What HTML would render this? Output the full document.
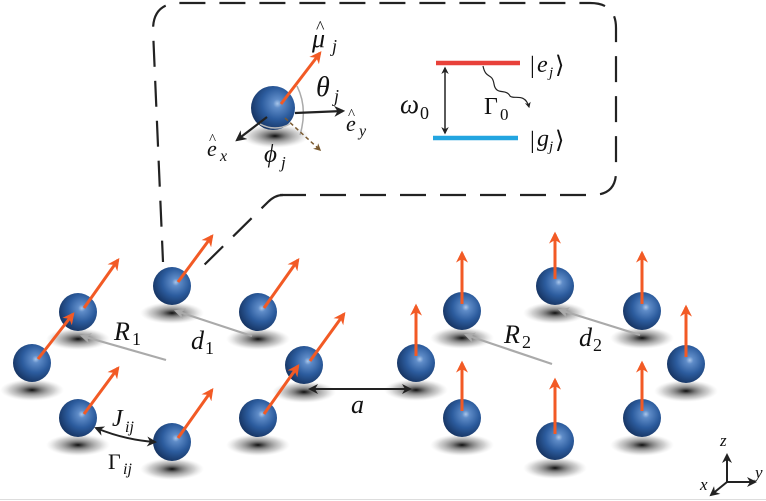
<!DOCTYPE html>
<html><head><meta charset="utf-8"><style>
html,body{margin:0;padding:0;background:#fff}
svg{display:block}
text{font-family:"Liberation Serif","DejaVu Serif",serif;font-style:italic;fill:#111}
.n{font-style:normal}
</style></head><body>
<svg width="766" height="501" viewBox="0 0 766 501" xmlns="http://www.w3.org/2000/svg">
<defs>
<radialGradient id="sp" cx="0.6" cy="0.4" r="0.65">
<stop offset="0" stop-color="#a9c6ea"/>
<stop offset="0.15" stop-color="#5f8cc8"/>
<stop offset="0.55" stop-color="#2c5c9e"/>
<stop offset="1" stop-color="#15325f"/>
</radialGradient>
<radialGradient id="sh" cx="0.5" cy="0.5" r="0.5">
<stop offset="0" stop-color="#000" stop-opacity="0.95"/>
<stop offset="0.3" stop-color="#444" stop-opacity="0.7"/>
<stop offset="0.7" stop-color="#999" stop-opacity="0.45"/>
<stop offset="1" stop-color="#ccc" stop-opacity="0"/>
</radialGradient>
<marker id="ao" viewBox="0 0 10 10" refX="8" refY="5" markerWidth="4" markerHeight="4" orient="auto"><path d="M0,0 L10,5 L0,10 L3,5z" fill="#f25a25"/></marker>
<marker id="ab" viewBox="0 0 10 10" refX="8" refY="5" markerWidth="5" markerHeight="5" orient="auto-start-reverse"><path d="M0,0 L10,5 L0,10 L3,5z" fill="#222"/></marker>
<marker id="ag" viewBox="0 0 10 10" refX="8" refY="5" markerWidth="5" markerHeight="5" orient="auto"><path d="M0,0 L10,5 L0,10 L3,5z" fill="#aaa"/></marker>
<marker id="abr" viewBox="0 0 10 10" refX="8" refY="5" markerWidth="5" markerHeight="5" orient="auto"><path d="M0,0 L10,5 L0,10 L3,5z" fill="#7a5a30"/></marker>
</defs>

<g fill="none" stroke="#222" stroke-width="2.2" stroke-dasharray="26,14">
<path d="M280,195 L592,195 Q616,195 616,172 L616,28 Q616,3 590,3 L180,3 Q153,3 153,30 L163,262"/>
<path d="M283,195 Q275,195 268,202 L195,274"/>
</g>

<ellipse cx="275" cy="136" rx="34" ry="12" fill="url(#sh)"/>
<circle cx="273" cy="108" r="22" fill="url(#sp)"/>
<path d="M297,86 Q308,108 300,135" fill="none" stroke="#aaa" stroke-width="1.5"/>
<path d="M260,124 Q275,132 290,124" fill="none" stroke="#bbb" stroke-width="1.5"/>
<line x1="281" y1="104" x2="320" y2="53" stroke="#f25a25" stroke-width="3" marker-end="url(#ao)"/>
<line x1="295" y1="113" x2="343" y2="111" stroke="#222" stroke-width="2.2" marker-end="url(#ab)"/>
<line x1="267" y1="117" x2="237" y2="140" stroke="#222" stroke-width="2.2" marker-end="url(#ab)"/>
<line x1="285" y1="118" x2="320" y2="150" stroke="#7a5a30" stroke-width="1.5" stroke-dasharray="4,3" marker-end="url(#abr)"/>
<text x="312" y="47" font-size="26">μ</text><text x="316" y="33" font-size="18" class="n">^</text><text x="332" y="52" font-size="18">j</text>
<text x="316" y="96" font-size="28">θ</text><text x="334" y="102" font-size="18">j</text>
<text x="346" y="131" font-size="22">e</text><text x="348" y="119" font-size="15" class="n">^</text><text x="359" y="136" font-size="16">y</text>
<text x="207" y="156" font-size="22">e</text><text x="209" y="144" font-size="15" class="n">^</text><text x="220" y="161" font-size="16">x</text>
<text x="264" y="162" font-size="25">ϕ</text><text x="281" y="168" font-size="17">j</text>

<line x1="436" y1="63" x2="520" y2="63" stroke="#e8413a" stroke-width="4.5"/>
<line x1="433" y1="138" x2="518" y2="138" stroke="#23a5e0" stroke-width="4.5"/>
<line x1="445" y1="68" x2="445" y2="133" stroke="#222" stroke-width="1.5" marker-end="url(#ab)" marker-start="url(#ab)"/>
<path d="M483,66 C486,80 492,72 494,84 C496,96 506,88 510,96 C513,100 525,92 529,107" fill="none" stroke="#222" stroke-width="1.2" marker-end="url(#ab)"/>
<text x="400" y="113" font-size="27">ω</text><text x="420" y="119" font-size="18" class="n">0</text>
<text x="484" y="114" font-size="24" class="n">Γ</text><text x="500" y="120" font-size="17" class="n">0</text>
<text x="530" y="73" font-size="24" class="n">|</text><text x="537" y="72" font-size="24">e</text><text x="549" y="77" font-size="15">j</text><text x="555" y="73" font-size="24" class="n">⟩</text>
<text x="530" y="148" font-size="24" class="n">|</text><text x="537" y="146" font-size="24">g</text><text x="549" y="151" font-size="15">j</text><text x="555" y="148" font-size="24" class="n">⟩</text>

<g fill="url(#sh)">
<ellipse cx="32" cy="390" rx="32" ry="11"/><ellipse cx="78" cy="339" rx="32" ry="11"/><ellipse cx="172" cy="313" rx="32" ry="11"/><ellipse cx="258" cy="339" rx="32" ry="11"/><ellipse cx="304" cy="392" rx="32" ry="11"/><ellipse cx="78" cy="445" rx="32" ry="11"/><ellipse cx="172" cy="469" rx="32" ry="11"/><ellipse cx="258" cy="445" rx="32" ry="11"/>
<ellipse cx="416" cy="390" rx="32" ry="11"/><ellipse cx="462" cy="338" rx="32" ry="11"/><ellipse cx="555" cy="313" rx="32" ry="11"/><ellipse cx="642" cy="338" rx="32" ry="11"/><ellipse cx="686" cy="391" rx="32" ry="11"/><ellipse cx="462" cy="445" rx="32" ry="11"/><ellipse cx="555" cy="468" rx="32" ry="11"/><ellipse cx="642" cy="445" rx="32" ry="11"/>
</g>

<g stroke="#aaa" stroke-width="2.2">
<line x1="166" y1="360" x2="82" y2="336" marker-end="url(#ag)"/>
<line x1="252" y1="336" x2="176" y2="311" marker-end="url(#ag)"/>
<line x1="552" y1="364" x2="466" y2="335" marker-end="url(#ag)"/>
<line x1="640" y1="335" x2="560" y2="310" marker-end="url(#ag)"/>
</g>

<g fill="url(#sp)">
<circle cx="32" cy="363" r="19"/><circle cx="78" cy="312" r="19"/><circle cx="172" cy="286" r="19"/><circle cx="258" cy="312" r="19"/><circle cx="304" cy="365" r="19"/><circle cx="78" cy="418" r="19"/><circle cx="172" cy="442" r="19"/><circle cx="258" cy="418" r="19"/>
<circle cx="416" cy="363" r="19"/><circle cx="462" cy="311" r="19"/><circle cx="555" cy="286" r="19"/><circle cx="642" cy="311" r="19"/><circle cx="686" cy="364" r="19"/><circle cx="462" cy="418" r="19"/><circle cx="555" cy="441" r="19"/><circle cx="642" cy="418" r="19"/>
</g>

<g stroke="#f25a25" stroke-width="3" marker-end="url(#ao)">
<line x1="38" y1="359" x2="73" y2="314"/><line x1="84" y1="308" x2="118" y2="260"/><line x1="178" y1="282" x2="212" y2="236"/><line x1="264" y1="308" x2="298" y2="260"/><line x1="310" y1="361" x2="344" y2="314"/><line x1="84" y1="414" x2="118" y2="368"/><line x1="178" y1="438" x2="212" y2="390"/><line x1="264" y1="414" x2="298" y2="366"/>
<line x1="416" y1="356" x2="416" y2="306"/><line x1="462" y1="304" x2="462" y2="253"/><line x1="555" y1="279" x2="555" y2="234"/><line x1="642" y1="304" x2="642" y2="253"/><line x1="686" y1="357" x2="686" y2="307"/><line x1="462" y1="411" x2="462" y2="363"/><line x1="555" y1="434" x2="555" y2="380"/><line x1="642" y1="411" x2="642" y2="363"/>
</g>

<line x1="310" y1="389" x2="410" y2="389" stroke="#222" stroke-width="2" marker-start="url(#ab)" marker-end="url(#ab)"/>
<path d="M96,428 Q125,440 155,442" fill="none" stroke="#222" stroke-width="2" marker-start="url(#ab)" marker-end="url(#ab)"/>

<text x="114" y="340" font-size="26">R</text><text x="132" y="345" font-size="18" class="n">1</text>
<text x="191" y="349" font-size="26">d</text><text x="205" y="354" font-size="18" class="n">1</text>
<text x="504" y="343" font-size="26">R</text><text x="522" y="348" font-size="18" class="n">2</text>
<text x="579" y="346" font-size="26">d</text><text x="593" y="351" font-size="18" class="n">2</text>
<text x="351" y="413" font-size="26">a</text>
<text x="112" y="426" font-size="24">J</text><text x="125" y="432" font-size="16">ij</text>
<text x="108" y="469" font-size="22" class="n">Γ</text><text x="123" y="474" font-size="16">ij</text>

<g stroke="#222" stroke-width="2">
<line x1="727" y1="482" x2="727" y2="455" marker-end="url(#ab)"/>
<line x1="727" y1="482" x2="755" y2="482" marker-end="url(#ab)"/>
<line x1="727" y1="482" x2="711" y2="495" marker-end="url(#ab)"/>
</g>
<text x="720" y="446" font-size="17">z</text>
<text x="755" y="478" font-size="17">y</text>
<text x="700" y="490" font-size="17">x</text>
<line x1="0" y1="499.5" x2="766" y2="499.5" stroke="#ddd" stroke-width="1"/>
</svg>
</body></html>
